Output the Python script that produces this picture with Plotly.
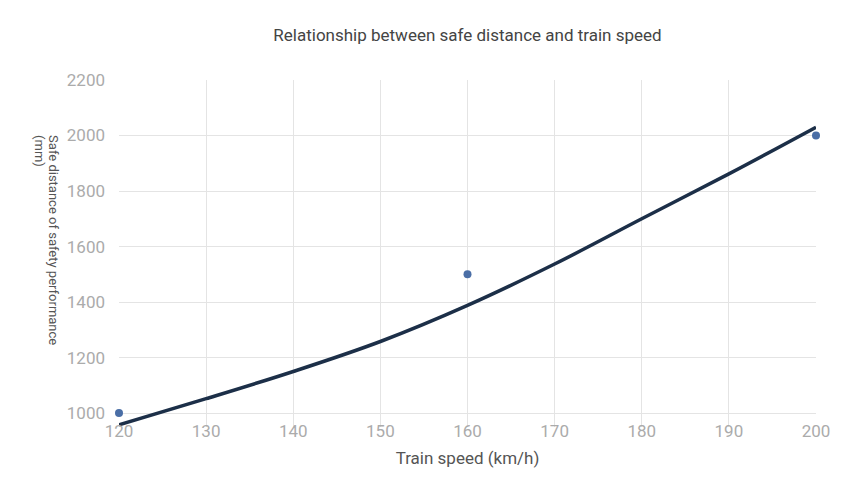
import plotly.graph_objects as go

# Observed data points
speed_pts = [120, 160, 200]
dist_pts = [1000, 1500, 2000]

# Fitted curve
speed_curve = [120, 130, 140, 150, 160, 170, 180, 190, 200]
dist_curve = [958, 1052, 1150, 1258, 1388, 1537, 1700, 1862, 2030]

x_ticks = [120, 130, 140, 150, 160, 170, 180, 190, 200]
y_ticks = [1000, 1200, 1400, 1600, 1800, 2000, 2200]

FONT = "Roboto"

fig = go.Figure()
fig.add_trace(go.Scatter(
    x=speed_curve, y=dist_curve, mode="lines",
    line=dict(color="#1c2f48", width=3.5, shape="spline", smoothing=1.0),
    showlegend=False, hoverinfo="skip"))
fig.add_trace(go.Scatter(
    x=speed_pts, y=dist_pts, mode="markers",
    marker=dict(color="#4a6ea6", size=8),
    showlegend=False, cliponaxis=False))

fig.update_layout(
    width=844, height=496,
    paper_bgcolor="#ffffff", plot_bgcolor="#ffffff",
    margin=dict(l=111, r=36, t=72, b=77),
    font=dict(family=FONT, color="#999999"),
    title=dict(text="Relationship between safe distance and train speed",
               x=0.5, xref="paper", y=0.946, yanchor="middle",
               font=dict(family=FONT, size=17, color="#444444")),
    xaxis=dict(range=[120, 200], tickvals=x_ticks, showgrid=True,
               gridcolor="#e4e4e4", gridwidth=1, zeroline=False,
               showline=False, ticks="",
               tickfont=dict(family=FONT, size=17, color="#ababab"),
               ticklabelstandoff=-8,
               title=dict(text="Train speed (km/h)", standoff=12,
                          font=dict(family=FONT, size=17, color="#555555"))),
    yaxis=dict(range=[950, 2200], tickvals=y_ticks, showgrid=True,
               gridcolor="#e4e4e4", gridwidth=1, zeroline=False,
               showline=False, ticks="",
               tickfont=dict(family=FONT, size=17, color="#ababab"),
               ticklabelstandoff=13),
    annotations=[
        dict(text="Safe distance of safety performance",
             xref="paper", yref="paper", x=-0.0933, y=0.847,
             xanchor="center", yanchor="top", textangle=90,
             showarrow=False, font=dict(family=FONT, size=13, color="#555555")),
        dict(text="(mm)",
             xref="paper", yref="paper", x=-0.1133, y=0.847,
             xanchor="center", yanchor="top", textangle=90,
             showarrow=False, font=dict(family=FONT, size=13, color="#555555")),
    ],
)

fig.write_html("out.html")
